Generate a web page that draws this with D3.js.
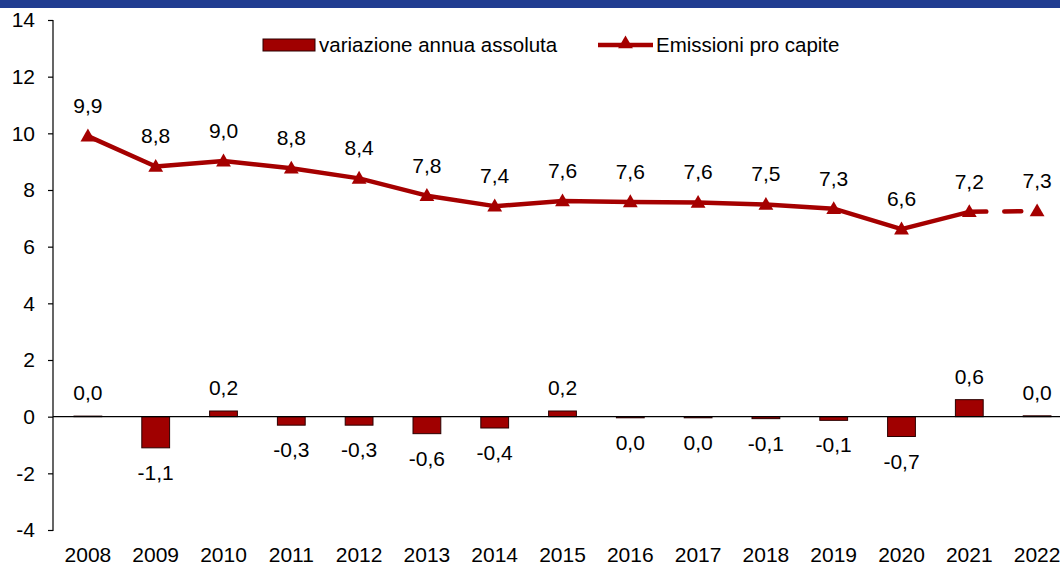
<!DOCTYPE html>
<html>
<head>
<meta charset="utf-8">
<script src="https://cdn.jsdelivr.net/npm/d3@7"></script>
<style>
  html, body { margin: 0; padding: 0; background: #fff; }
  svg { display: block; font-family: "Liberation Sans", Arial, sans-serif; }
</style>
</head>
<body>
<svg id="chart" width="1060" height="566"></svg>
<script>
const years = ["2008","2009","2010","2011","2012","2013","2014","2015","2016","2017","2018","2019","2020","2021","2022"];
const variazione = [0.02, -1.1, 0.2, -0.3, -0.3, -0.6, -0.4, 0.2, -0.04, -0.04, -0.07, -0.13, -0.7, 0.6, 0.03];
const emissioni = [9.9, 8.83, 9.02, 8.77, 8.41, 7.8, 7.43, 7.61, 7.58, 7.56, 7.49, 7.34, 6.62, 7.23, 7.26];
const yTicks = [-4, -2, 0, 2, 4, 6, 8, 10, 12, 14];
const legendLabels = ["variazione annua assoluta", "Emissioni pro capite"];

const RED = "#A50000";
const svg = d3.select("#chart");

// header band
svg.append("rect").attr("x", 0).attr("y", 0).attr("width", 1060).attr("height", 8).attr("fill", "#213D91");

const x = d3.scaleBand().domain(years).range([54, 1071]).padding(0);
const y = d3.scaleLinear().domain([-4, 14]).range([530, 20]);
const fmt = v => { let s = v.toFixed(1).replace(".", ","); return s === "-0,0" ? "0,0" : s; };

// y axis
const yAxis = d3.axisLeft(y).tickValues(yTicks).tickSize(5).tickPadding(13).tickFormat(d => String(d));
const gy = svg.append("g").attr("transform", "translate(53,0)").call(yAxis);
gy.select(".domain").attr("stroke", "#000").attr("stroke-width", 1.2).attr("d", "M-5,20.5H0V530.5H-5");
gy.selectAll(".tick line").attr("stroke", "#000").attr("stroke-width", 1.2);
gy.selectAll(".tick text").attr("font-size", 21).attr("fill", "#000").attr("font-family", "Liberation Sans, Arial, sans-serif");

// x labels
svg.append("g").selectAll("text").data(years).join("text")
  .attr("x", d => x(d) + x.bandwidth() / 2)
  .attr("y", 562)
  .attr("text-anchor", "middle")
  .attr("font-size", 21)
  .attr("fill", "#000")
  .text(d => d);

// bars
const bw = x.bandwidth() * 0.41;
svg.append("g").selectAll("rect").data(years).join("rect")
  .attr("x", d => x(d) + x.bandwidth() / 2 - bw / 2)
  .attr("y", (d, i) => Math.min(y(variazione[i]), y(0)))
  .attr("width", bw)
  .attr("height", (d, i) => Math.abs(y(variazione[i]) - y(0)))
  .attr("fill", "#A00000")
  .attr("stroke", "#2a0000")
  .attr("stroke-width", 1);

// x axis line at zero
svg.append("line").attr("x1", 53).attr("x2", 1060).attr("y1", y(0)).attr("y2", y(0))
  .attr("stroke", "#000").attr("stroke-width", 1.2);

// bar labels
svg.append("g").selectAll("text").data(years).join("text")
  .attr("x", d => x(d) + x.bandwidth() / 2)
  .attr("y", (d, i) => variazione[i] >= 0 ? y(variazione[i]) - 16 : y(variazione[i]) + 32)
  .attr("text-anchor", "middle")
  .attr("font-size", 21)
  .attr("fill", "#000")
  .text((d, i) => fmt(variazione[i]));

// line
const cx = d => x(d) + x.bandwidth() / 2;
const pts = years.map((d, i) => [cx(d), y(emissioni[i])]);
const line = d3.line();
svg.append("path").attr("d", line(pts.slice(0, 14)))
  .attr("fill", "none").attr("stroke", RED).attr("stroke-width", 4.5).attr("stroke-linejoin", "round");
svg.append("path").attr("d", line(pts.slice(13)))
  .attr("fill", "none").attr("stroke", RED).attr("stroke-width", 4.5)
  .attr("stroke-dasharray", "17,18").attr("stroke-linecap", "round");

// markers
const tri = d3.symbol().type(d3.symbolTriangle).size(95);
svg.append("g").selectAll("path").data(pts).join("path")
  .attr("transform", p => `translate(${p[0]},${p[1] + 1})`)
  .attr("d", tri)
  .attr("fill", RED);

// line labels
svg.append("g").selectAll("text").data(years).join("text")
  .attr("x", d => cx(d))
  .attr("y", (d, i) => y(emissioni[i]) - 23)
  .attr("text-anchor", "middle")
  .attr("font-size", 21)
  .attr("fill", "#000")
  .text((d, i) => fmt(emissioni[i]));

// legend
const lg = svg.append("g");
lg.append("rect").attr("x", 263).attr("y", 39).attr("width", 52).attr("height", 12)
  .attr("fill", "#A00000").attr("stroke", "#2a0000").attr("stroke-width", 1);
lg.append("text").attr("x", 319).attr("y", 52).attr("font-size", 20.5).attr("fill", "#000").text(legendLabels[0]);
lg.append("line").attr("x1", 598).attr("x2", 653).attr("y1", 45).attr("y2", 45)
  .attr("stroke", RED).attr("stroke-width", 4.5);
lg.append("path").attr("transform", "translate(625.5,44)").attr("d", tri).attr("fill", RED);
lg.append("text").attr("x", 656).attr("y", 52).attr("font-size", 20.5).attr("fill", "#000").text(legendLabels[1]);
</script>
</body>
</html>
